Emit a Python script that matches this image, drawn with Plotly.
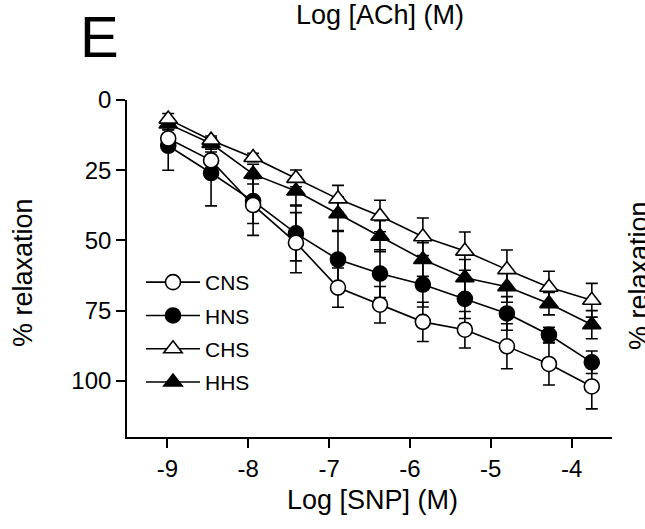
import plotly.graph_objects as go

# ---- data ----
# x positions of the data columns as read against the drawn axis ticks
log_snp = [-8.99, -8.46, -7.94, -7.41, -6.89, -6.37, -5.84, -5.32, -4.80, -4.28, -3.75]

cns = [13.7, 21.5, 37.4, 50.8, 66.8, 72.9, 79.0, 81.8, 87.7, 94.0, 102.0]
cns_err = [3.0, 3.0, 10.8, 10.7, 7.0, 6.5, 7.0, 6.5, 8.0, 7.5, 8.0]

hns = [16.3, 26.0, 36.0, 47.5, 56.8, 61.8, 65.7, 70.8, 76.0, 83.6, 93.4]
hns_err = [8.7, 11.7, 8.0, 9.8, 10.0, 8.5, 8.0, 7.0, 6.0, 2.7, 4.0]

chs = [6.8, 14.3, 20.5, 27.9, 35.2, 41.3, 48.7, 53.8, 60.4, 66.7, 71.3]
chs_err = [2.0, 1.5, 1.5, 3.0, 4.8, 5.6, 6.7, 6.8, 7.0, 5.7, 6.0]

hhs = [8.5, 15.5, 26.4, 32.4, 40.5, 48.5, 56.8, 63.3, 66.5, 72.5, 80.0]
hhs_err = [2.0, 2.0, 3.5, 5.0, 6.0, 5.5, 6.0, 6.5, 5.5, 4.0, 5.0]

x_ticks = [-9, -8, -7, -6, -5, -4]
y_ticks = [0, 25, 50, 75, 100]

FONT = "Liberation Sans, Arial, Helvetica, sans-serif"

W, H = 645, 529
# plot area on screen: x 127..612, y 100..437
L, T = 127, 100
PW, PH = 485, 337
R, B = W - L - PW, H - T - PH


def px_x(p):
    return (p - L) / PW


def px_y(p):
    return (T + PH - p) / PH


series = [
    # name, y, err, symbol, fill, rank
    ("HNS", hns, hns_err, "circle", "black", 2),
    ("HHS", hhs, hhs_err, "triangle-up", "black", 4),
    ("CHS", chs, chs_err, "triangle-up", "white", 3),
    ("CNS", cns, cns_err, "circle", "white", 1),
]

fig = go.Figure()
for name, y, err, sym, fill, rank in series:
    fig.add_trace(go.Scatter(
        x=log_snp, y=y, name=name, mode="lines+markers",
        legendrank=rank, legendgroup=name,
        line=dict(color="black", width=1.6),
        marker=dict(symbol=sym, size=15 if sym == "circle" else 16,
                    color=fill, line=dict(color="black", width=1.6)),
        error_y=dict(type="data", array=err, symmetric=True,
                     color="black", thickness=1.6, width=6),
    ))

fig.update_layout(
    width=W, height=H,
    margin=dict(l=L, r=R, t=T, b=B),
    paper_bgcolor="white", plot_bgcolor="white",
    font=dict(family=FONT, color="black", size=24),
    showlegend=True,
    legend=dict(x=px_x(141), y=px_y(262), xanchor="left", yanchor="top",
                bgcolor="rgba(0,0,0,0)", font=dict(size=21, family=FONT),
                traceorder="grouped", tracegroupgap=3, itemwidth=54),
    xaxis=dict(range=[-9.5, -3.5], tickvals=x_ticks,
               ticktext=[str(v) for v in x_ticks],
               showline=True, linecolor="black", linewidth=1.6,
               ticks="outside", ticklen=9, tickwidth=1.6, tickcolor="black",
               showgrid=False, zeroline=False,
               tickfont=dict(size=24, family=FONT)),
    yaxis=dict(range=[120, 0], tickvals=y_ticks,
               showline=True, linecolor="black", linewidth=1.6,
               ticks="outside", ticklen=9, tickwidth=1.6, tickcolor="black",
               showgrid=False, zeroline=False,
               tickfont=dict(size=24, family=FONT)),
    annotations=[
        dict(text="E", x=px_x(99), y=px_y(36), xref="paper", yref="paper",
             showarrow=False, font=dict(size=58, family=FONT),
             xanchor="center", yanchor="middle"),
        dict(text="Log [ACh] (M)", x=px_x(380), y=px_y(15), xref="paper", yref="paper",
             showarrow=False, font=dict(size=27, family=FONT),
             xanchor="center", yanchor="middle"),
        dict(text="Log [SNP] (M)", x=px_x(372), y=px_y(500), xref="paper", yref="paper",
             showarrow=False, font=dict(size=27, family=FONT),
             xanchor="center", yanchor="middle"),
        dict(text="% relaxation", x=px_x(23), y=px_y(273), xref="paper", yref="paper",
             showarrow=False, font=dict(size=27, family=FONT), textangle=-90,
             xanchor="center", yanchor="middle"),
        dict(text="% relaxation", x=px_x(639), y=px_y(276), xref="paper", yref="paper",
             showarrow=False, font=dict(size=27, family=FONT), textangle=-90,
             xanchor="center", yanchor="middle"),
    ],
)

fig.write_html("out.html",
               config={"displayModeBar": False},
               post_script="document.body.style.margin='0';")
